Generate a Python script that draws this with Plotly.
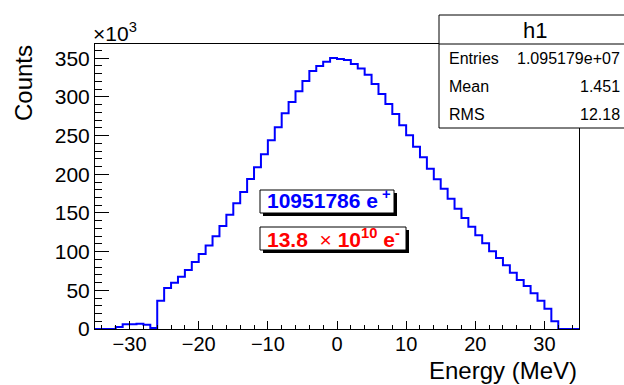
import numpy as np
import plotly.graph_objects as go

# Histogram h1: bin width 1 MeV, from -35 to 35 MeV; counts in units of 10^3
bin_edges_lo = -35
bin_edges_hi = 35
counts_k = [
    0, 0, 0, 2.6, 6.0, 6.0, 6.9, 5.6, 1.3,            # -35 .. -27
    36.6, 53.0, 59.9, 67.7, 76.3, 86.6, 97.0, 108.0,   # -26 .. -19
    120.0, 133.0, 147.8, 162.5, 177.0, 194.0, 209.0,   # -18 .. -12
    226.0, 244.0, 260.7, 278.8, 293.5, 307.3, 320.6,   # -11 .. -5
    333.5, 340.0, 345.6, 350.4,                        # -4 .. -1
    349.0, 347.8, 342.6, 336.6, 328.8, 316.7, 303.8,   # 0 .. 6
    290.9, 278.0, 263.3, 250.4, 235.7, 222.0, 207.3,   # 7 .. 13
    193.5, 181.4, 168.5, 155.5, 143.5, 132.3, 121.1,   # 14 .. 20
    110.8, 100.4, 91.8, 82.3, 72.8, 63.3, 55.6,        # 21 .. 27
    46.1, 36.6, 26.3, 9.9, 0, 0, 0                     # 28 .. 34
]
stats_labels = ["Entries", "Mean", "RMS"]
stats_values = ["1.095179e+07", "1.451", "12.18"]
hist_name = "h1"
x_title = "Energy (MeV)"
y_title = "Counts"

edges = np.arange(bin_edges_lo, bin_edges_hi + 1)
ys = counts_k + [counts_k[-1]]

FONT = "Liberation Sans, Arial, Helvetica, sans-serif"

# Pixel geometry of the plot area
L, R, T, B = 95, 579, 44, 329
W, H = 624, 385


def px(x):
    return (x - L) / (R - L)


def py(y):
    return (B - y) / (B - T)


fig = go.Figure()
fig.add_trace(go.Scatter(
    x=edges, y=ys, mode="lines", line=dict(color="#0000ff", width=2, shape="hv"),
    hoverinfo="skip", showlegend=False,
))

shapes = []
# Stats box
shapes.append(dict(type="rect", xref="paper", yref="paper", x0=px(439), x1=px(640),
                   y0=py(128), y1=py(15), fillcolor="white",
                   line=dict(color="black", width=1), layer="above"))
shapes.append(dict(type="line", xref="paper", yref="paper", x0=px(439), x1=px(640),
                   y0=py(44), y1=py(44), line=dict(color="black", width=1), layer="above"))
# Text boxes with shadows
for (x0, y0, x1, y1) in [(260, 190, 394, 213), (260, 227, 406, 250)]:
    shapes.append(dict(type="rect", xref="paper", yref="paper", x0=px(x0 + 3), x1=px(x1 + 3),
                       y0=py(y1 + 3), y1=py(y0 + 3), fillcolor="black",
                       line=dict(color="black", width=0), layer="above"))
    shapes.append(dict(type="rect", xref="paper", yref="paper", x0=px(x0), x1=px(x1),
                       y0=py(y1), y1=py(y0), fillcolor="white",
                       line=dict(color="black", width=1), layer="above"))

ann = []
ann.append(dict(text=hist_name, xref="paper", yref="paper", x=px(535), y=py(30),
                xanchor="center", yanchor="middle", showarrow=False,
                font=dict(family=FONT, size=22, color="black")))
for i, (lab, val) in enumerate(zip(stats_labels, stats_values)):
    yc = [58, 86.5, 114.5][i]
    ann.append(dict(text=lab, xref="paper", yref="paper", x=px(447), y=py(yc),
                    xanchor="left", yanchor="middle", showarrow=False,
                    font=dict(family=FONT, size=16, color="black")))
    ann.append(dict(text=val, xref="paper", yref="paper", x=px(622), y=py(yc),
                    xanchor="right", yanchor="middle", showarrow=False,
                    font=dict(family=FONT, size=16, color="black")))
ann.append(dict(text="<b>10951786 e<sup> +</sup></b>", xref="paper", yref="paper",
                x=px(265), y=py(199), xanchor="left", yanchor="middle", showarrow=False,
                font=dict(family=FONT, size=21, color="#0000ff")))
ann.append(dict(text="<b>13.8</b>  × <b>10<sup>10</sup> e<sup>-</sup></b>", xref="paper", yref="paper",
                x=px(265), y=py(237.5), xanchor="left", yanchor="middle", showarrow=False,
                font=dict(family=FONT, size=21, color="#ff0000")))
ann.append(dict(text="×10<sup>3</sup>", xref="paper", yref="paper", x=px(91), y=py(47),
                xanchor="left", yanchor="bottom", showarrow=False,
                font=dict(family=FONT, size=21, color="black")))
ann.append(dict(text=y_title, xref="paper", yref="paper", x=px(23), y=py(83),
                xanchor="center", yanchor="middle", textangle=-90, showarrow=False,
                font=dict(family=FONT, size=24, color="black")))
ann.append(dict(text=x_title, xref="paper", yref="paper", x=px(579), y=py(370),
                xanchor="right", yanchor="middle", showarrow=False,
                font=dict(family=FONT, size=24, color="black")))

fig.update_layout(
    width=W, height=H,
    margin=dict(l=L, r=W - R, t=T, b=H - B, pad=0),
    paper_bgcolor="white", plot_bgcolor="white",
    font=dict(family=FONT, size=20, color="black"),
    shapes=shapes, annotations=ann,
    xaxis=dict(range=[-35, 35], dtick=10, tick0=0, ticks="inside", ticklen=8,
               tickwidth=1, tickcolor="black", showline=True, linecolor="black",
               linewidth=1, mirror=True, showgrid=False, zeroline=False,
               tickfont=dict(size=20), ticklabelstandoff=-3,
               minor=dict(dtick=2, ticks="inside", ticklen=4, tickcolor="black",
                          showgrid=False)),
    yaxis=dict(range=[0, 368.4], dtick=50, tick0=0, ticks="inside", ticklen=14,
               tickwidth=1, tickcolor="black", showline=True, linecolor="black",
               linewidth=1, mirror=True, showgrid=False, zeroline=False,
               tickfont=dict(size=21),
               minor=dict(dtick=10, ticks="inside", ticklen=7, tickcolor="black",
                          showgrid=False)),
)

fig.write_html("out.html")
